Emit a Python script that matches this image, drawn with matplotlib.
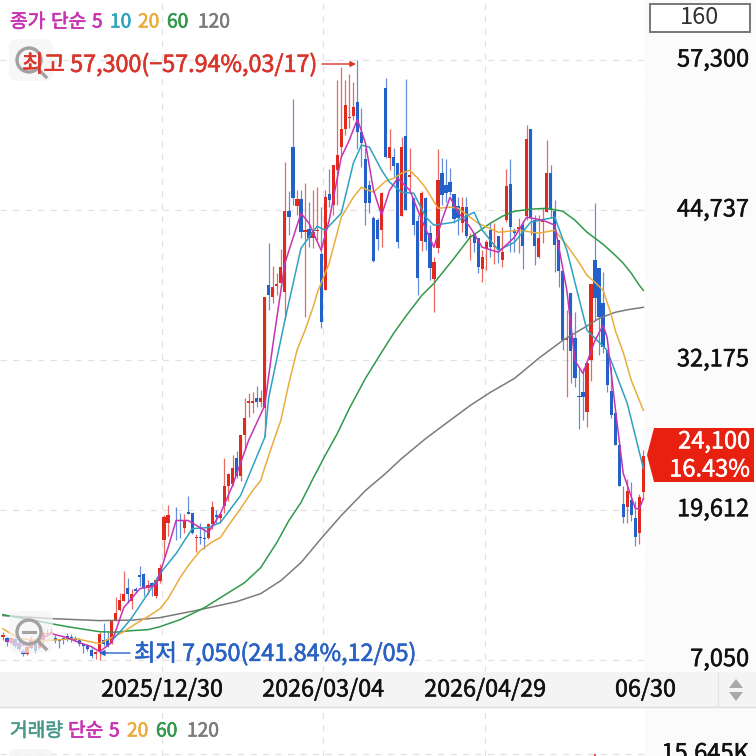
import numpy as np
import matplotlib
matplotlib.use("Agg")
import matplotlib.pyplot as plt
import matplotlib.patheffects as pe
from matplotlib.patches import Rectangle, Polygon, Circle, FancyBboxPatch

plt.rcParams['font.family'] = ['Noto Sans CJK KR', 'DejaVu Sans']

# daily candles, oldest first
opens = [8980,8890,8470,8810,8470,7800,7550,8050,8390,8050,
         8640,9230,9310,8890,8810,8890,9060,8970,8890,8810,
         8390,8220,7880,7550,7800,8690,8810,8470,10320,11240,
         11990,13090,11990,13000,14180,14260,13090,13500,12410,13670,
         17110,18540,19130,18710,18710,18120,19460,19380,17280,17360,
         17280,17280,18450,19210,18960,19960,21640,21810,23910,22480,
         25840,28520,28520,28940,28610,28100,38420,37420,38340,38590,
         37830,44630,50000,45050,45640,42870,43120,42370,42950,41020,
         38000,46060,45130,48070,50000,51510,52430,52600,53780,51260,
         48990,46810,44040,43880,43040,54950,49080,49160,48660,44210,
         50920,47480,45720,43790,42110,45720,42780,38930,41530,47820,
         46810,47060,46060,45050,43620,44970,42450,42700,42370,39760,
         41440,43040,41610,42530,40520,43880,46900,42950,43120,43460,
         44210,51510,43880,40770,43710,44550,47820,44630,42200,39600,
         33810,37750,33980,29110,29450,27770,32130,40520,39850,36910,
         32970,29530,27680,25000,20130,19880,20470,18960,17700,21140]
closes = [9140,8550,8890,8220,7970,7550,8130,8810,7800,8640,
          9310,9310,9390,8720,8640,8720,8720,8720,8720,8390,
          8220,7970,7380,7710,9230,8390,8220,10320,10990,12080,
          12580,12580,12580,12830,14010,13090,13340,13170,13760,14760,
          19040,19130,19210,18630,18630,18790,19290,17700,17360,17280,
          17200,18450,19800,19040,19290,21640,22570,23150,22480,25840,
          27260,28690,28690,28610,28940,37420,37580,38250,38510,39930,
          44630,44130,45720,45640,42870,43040,42370,42870,43040,35320,
          45800,45550,48490,49330,51510,53520,52520,53360,51260,50340,
          45300,45300,40440,42280,46140,49160,50000,48410,42030,50000,
          44720,47650,43460,39010,46140,42030,39850,40350,47230,45970,
          46140,46220,43960,44040,44970,42530,42530,41950,39930,40770,
          42030,41610,41700,41360,41190,46730,43290,42780,43290,41700,
          50670,44040,41700,42370,43880,47820,44710,41780,39600,33810,
          33980,32890,30620,29030,29030,31880,38510,37330,35740,33220,
          30030,27520,25000,21560,19040,21220,19130,17360,20700,24100]
highs = [9390,8980,8970,8890,8640,7970,8390,9060,8640,8890,
         9480,9650,9730,9140,8810,8970,9310,9230,9060,8890,
         8470,8390,8050,7800,9390,10150,9390,10320,12330,12670,
         14510,13920,13000,13170,14930,14350,13760,13590,13840,15100,
         19130,20050,19210,19800,19380,19290,20800,19380,17610,18540,
         18120,18540,20380,19550,19290,23990,22650,24160,24500,25840,
         28940,29360,29450,29950,29610,37420,41950,40020,39430,41440,
         48740,46310,54030,46390,46390,46980,45390,46390,46640,44970,
         46390,48150,48490,55620,56710,55620,56130,55450,57300,53270,
         49920,47230,44210,44040,46220,55790,51510,49920,48660,50840,
         55700,49920,45720,44300,46310,45800,43460,40770,49830,49080,
         48990,48240,46060,45800,45800,45800,42790,42790,42370,41360,
         42200,43620,43620,42530,43290,48150,48990,43200,44040,43880,
         51850,51510,44300,44300,44880,50590,48490,45550,42200,39600,
         36330,37750,36160,31460,31460,31880,38510,45300,39850,39510,
         32970,31540,27680,25000,21640,22230,21900,20380,20970,24580]
lows = [8720,8220,8390,8050,7800,7380,7460,7970,7630,7970,
        8470,9060,9230,8470,8050,8390,8640,8550,8640,8220,
        7630,7800,7210,7130,7050,8220,8130,8390,10320,11150,
        11990,11830,11320,12670,13250,12410,12580,12410,12240,13500,
        15680,17450,19130,17110,17280,17700,19290,17610,16100,16780,
        16360,17200,18030,18540,18540,19380,20380,21560,22310,22060,
        24580,27350,27680,28190,28190,25670,36320,36910,37580,38590,
        35490,42620,45130,44300,42370,35740,41610,41530,42200,34810,
        38000,44970,44300,45130,49160,51000,51590,52270,49830,48320,
        43460,44460,40350,41360,41610,49080,48070,47480,41530,44210,
        44720,46390,42620,37580,41280,41360,38840,36160,41110,45130,
        45390,45970,43620,42620,42870,42370,40520,41190,39430,38670,
        39680,40770,40180,40270,39930,43710,41190,41190,41110,39770,
        43880,42620,40100,40690,41950,44550,44040,39510,38250,32970,
        29030,30200,29860,26340,27100,26510,30370,35490,32550,32720,
        29450,27260,25000,21560,18540,18540,18710,16610,16780,20550]

# moving averages, read at the candle numbers in the *_idx lists
ma5_idx = [1,4,8,10,12,16,19,22,24,27,30,34,38,41,43,46,51,54,57,61,65,67,70,74,76,79,81,84,86,88,90,92,94,96,98,
           101,104,107,109,111,113,116,119,123,127,130,134,137,140,142,144,147,149,150,152,154,157,158,159]
ma5_val = [8640,8220,8390,8890,9230,8890,8470,8130,7710,8470,11400,13000,13250,16440,18710,18710,17700,19290,21640,25420,28350,33390,40270,44460,43620,41360,43880,49160,50590,52350,50340,46390,44300,46390,47400,
           46390,43880,41610,43880,45800,44550,43290,41610,41190,42450,44130,43880,43460,38000,32130,31040,33810,35070,34060,28190,22650,19710,19710,20550]
ma10_idx = [27,30,32,36,39,43,47,51,54,59,65,66,70,74,76,78,80,84,87,89,91,94,96,99,102,105,107,112,117,119,123,127,131,137,140,145,150,155,159]
ma10_val = [8640,9730,10570,12580,14260,15940,18030,18120,18540,20800,25670,29030,35490,41530,42450,43370,43040,44460,48660,50170,50000,48070,47060,46220,46140,44130,43460,43710,44550,43040,41360,42030,43710,44130,41360,34650,32970,28520,23070]
ma20_idx = [0,4,10,14,18,24,27,30,33,36,39,41,44,46,49,52,54,56,59,62,64,65,67,69,71,73,75,77,78,81,84,87,89,92,95,97,99,101,103,105,
            108,111,113,118,123,128,133,137,140,143,145,147,149,151,152,154,156,158,159]
ma20_val = [9640,8810,8640,8720,8810,8390,8890,9390,10060,10650,11320,12160,13920,14930,16190,16930,17280,18290,19710,21220,22060,23150,25170,27100,30200,32970,34650,36580,37750,40270,44130,45800,46640,46220,47150,47400,47820,48070,47400,46560,
            44880,44970,44880,43620,42870,43040,42790,43040,41780,40350,39260,38670,38000,35990,34650,32800,30450,28770,27940]
ma60_idx = [0,8,16,24,28,32,36,39,44,50,56,60,64,68,71,74,77,80,83,86,90,94,97,100,104,107,112,116,121,124,127,131,135,139,142,145,149,152,154,156,158,159]
ma60_val = [10820,10320,9810,9390,9350,9480,9560,9810,10400,11400,12660,13500,14760,16860,18710,20220,22230,24160,25990,28100,30620,32800,34400,35820,37580,38590,40690,42450,43620,44210,44630,44800,44880,44630,43880,42870,41860,40940,40270,39430,38420,38000]
ma120_idx = [0,12,24,32,39,49,58,64,69,74,79,84,90,95,99,105,111,116,121,127,133,139,144,148,152,155,159]
ma120_val = [10740,10490,10320,10360,10570,11240,11910,12580,13670,15180,17200,19130,21220,22650,23910,25590,27100,28350,29450,30620,32300,33810,34810,35650,36160,36370,36580]

# volume panel, only the top of the tallest bar is on screen
vol_idx = [147]
vol_val = [15645]

price_ticks = [57300, 44737, 32175, 19612, 7050]
price_tick_labels = ['57,300', '44,737', '32,175', '19,612', '7,050']
date_idx = [39.4, 79.4, 119.6, 159.4]
date_labels = ['2025/12/30', '2026/03/04', '2026/04/29', '06/30']

UP = '#e02a1e'
DOWN = '#2360c8'
GRID = '#e2e2e2'
W, H = 756, 756
BIG = 17


def frame(x0, y0, x1, y1):
    # pixel box from the top left to a figure rect
    return [x0 / W, 1 - y1 / H, (x1 - x0) / W, (y1 - y0) / H]


def thicken(txt, color, lw=0.45):
    # the source font is a bit heavier than the regular cut
    txt.set_path_effects([pe.withStroke(linewidth=lw, foreground=color)])
    return txt


fig = plt.figure(figsize=(W / 100, H / 100), dpi=100, facecolor='white')
fig.add_artist(Rectangle((645 / W, 0), 111 / W, 1, transform=fig.transFigure,
                         color='#fbfbfb', lw=0, zorder=-2))

ax = fig.add_axes(frame(0, 0, 645, 672))
ax.set_xlim(-0.72, 159.32)
ax.set_ylim(6013, 62334)
for s in ax.spines.values():
    s.set_visible(False)

x = np.arange(len(opens))
o, c, h, l = map(np.array, (opens, closes, highs, lows))
colors = np.where(c >= o, UP, DOWN)

ax.vlines(x, l, h, colors=colors, lw=0.9, alpha=0.7, zorder=2)
ax.bar(x, np.abs(c - o), bottom=np.minimum(o, c), width=0.8, color=colors, lw=0, zorder=3)

ax.plot(ma120_idx, ma120_val, color='#7b7b7b', lw=1.1, zorder=4)
ax.plot(ma60_idx, ma60_val, color='#2f9a4a', lw=1.1, zorder=4)
ax.plot(ma20_idx, ma20_val, color='#e9ad3c', lw=1.1, zorder=4)
ax.plot(ma10_idx, ma10_val, color='#2fa2c2', lw=1.1, zorder=4)
ax.plot(ma5_idx, ma5_val, color='#c733b3', lw=1.1, zorder=5)

ax.set_yticks(price_ticks, price_tick_labels)
ax.set_xticks(date_idx, date_labels)
ax.yaxis.tick_right()
ax.grid(True, color=GRID, lw=0.9, ls=(0, (5, 5)), zorder=1)
ax.tick_params(axis='both', length=0, labelsize=BIG, labelcolor='#111111')
ax.tick_params(axis='y', pad=75)
for t in ax.get_yticklabels():
    t.set_ha('right')
    t.set_va('center')
    thicken(t, '#111111', 0.35)
ax.set_xticklabels([])

# volume panel
vax = fig.add_axes(frame(0, 708, 645, 756))
vax.set_xlim(-0.72, 159.32)
vax.set_ylim(15600, 16680)
vax.patch.set_alpha(0)
for s in vax.spines.values():
    s.set_visible(False)
vax.vlines(vol_idx, 0, vol_val, color=UP, lw=1.2)
vax.set_xticks(date_idx[:3], [])
vax.set_yticks(vol_val, ['15,645K'])
vax.yaxis.tick_right()
vax.grid(True, color=GRID, lw=0.9, ls=(0, (5, 5)), zorder=1)
vax.tick_params(axis='both', length=0, labelsize=BIG, labelcolor='#111111')
vax.tick_params(axis='y', pad=75)
for t in vax.get_yticklabels():
    t.set_ha('right')
    t.set_va('center')
    thicken(t, '#111111', 0.35)

# everything that sits on top in screen pixels
top = fig.add_axes([0, 0, 1, 1], zorder=5)
top.set_xlim(0, W)
top.set_ylim(H, 0)
top.axis('off')
top.patch.set_alpha(0)

# date band and the scroll buttons
top.add_patch(Rectangle((0, 672), 756, 35, color='#f4f4f4', lw=0, zorder=0))
top.plot([0, 756], [707, 707], color='#dddddd', lw=1, zorder=0)
top.plot([718, 718], [672, 707], color='#e4e4e4', lw=1, zorder=0)
top.add_patch(Polygon([[729, 688], [743, 688], [736, 679]], color='#a9a9a9', lw=0))
top.add_patch(Polygon([[729, 692], [743, 692], [736, 701]], color='#a9a9a9', lw=0))
for lab, idx in zip(date_labels, date_idx):
    xp = 2.9 + 4.03 * idx
    thicken(top.text(xp, 690, lab, ha='center', va='center', fontsize=BIG - 0.2, color='#111111'), '#111111', 0.35)

# count box
top.add_patch(Rectangle((650, 4), 100, 28, fc='white', ec='#777777', lw=1.4))
top.text(700, 18, '160', ha='center', va='center', fontsize=BIG, color='#333333')

# zoom buttons
for yc, sign in ((60, ''), (632, '-')):
    top.add_patch(FancyBboxPatch((12, yc - 18), 38, 36, boxstyle='round,pad=3,rounding_size=8',
                                 fc='#f5f5f5', ec='none', alpha=0.7, zorder=1))
    top.add_patch(Circle((29, yc), 12, fc='none', ec='#a2a2a2', lw=2.4, zorder=2))
    top.plot([38, 46], [yc + 9, yc + 17], color='#a2a2a2', lw=2.4, zorder=2)
    if sign == '-':
        top.plot([23, 35], [yc, yc], color='#a2a2a2', lw=2.2, zorder=2)
top.add_patch(FancyBboxPatch((12, 752), 38, 20, boxstyle='round,pad=3,rounding_size=8',
                             fc='#f3f3f3', ec='none', alpha=0.75, zorder=1))

# indicator legends
legend_top = [('종가', 10, '#c733b3'), ('단순', 51, '#c733b3'), ('5', 92, '#c733b3'),
              ('10', 110, '#2fa2c2'), ('20', 138, '#e9ad3c'), ('60', 167, '#2f9a4a'),
              ('120', 198, '#7b7b7b')]
for lab, xp, col in legend_top:
    thicken(top.text(xp, 22, lab, ha='left', va='center', fontsize=13.8, color=col), col)
legend_vol = [('거래량', 10, '#4a9a8c'), ('단순', 68, '#c733b3'), ('5', 109, '#c733b3'),
              ('20', 127, '#e9ad3c'), ('60', 156, '#2f9a4a'), ('120', 187, '#7b7b7b')]
for lab, xp, col in legend_vol:
    thicken(top.text(xp, 731, lab, ha='left', va='center', fontsize=13.8, color=col), col)

# high and low notes
thicken(top.text(22, 65, '최고 57,300(−57.94%,03/17)', ha='left', va='center', fontsize=16.8,
                 color='#d8352b', zorder=6), '#d8352b')
top.annotate('', xy=(356, 64), xytext=(322, 64),
             arrowprops=dict(arrowstyle='-|>', color='#d8352b', lw=1, mutation_scale=8, shrinkA=0, shrinkB=0))
thicken(top.text(134, 654, '최저 7,050(241.84%,12/05)', ha='left', va='center', fontsize=16.8,
                 color='#2a62c4', zorder=6), '#2a62c4')
top.annotate('', xy=(99, 653), xytext=(130, 653),
             arrowprops=dict(arrowstyle='-|>', color='#2a62c4', lw=1, mutation_scale=8, shrinkA=0, shrinkB=0))

# last price tag
top.add_patch(Polygon([[647, 455], [654, 428], [754, 428], [754, 482], [654, 482]], color='#e8200f', lw=0))
thicken(top.text(750, 442, '24,100', ha='right', va='center', fontsize=BIG, color='white'), 'white', 0.35)
thicken(top.text(750, 470, '16.43%', ha='right', va='center', fontsize=BIG, color='white'), 'white', 0.35)

fig.savefig('out.png', dpi=100)
